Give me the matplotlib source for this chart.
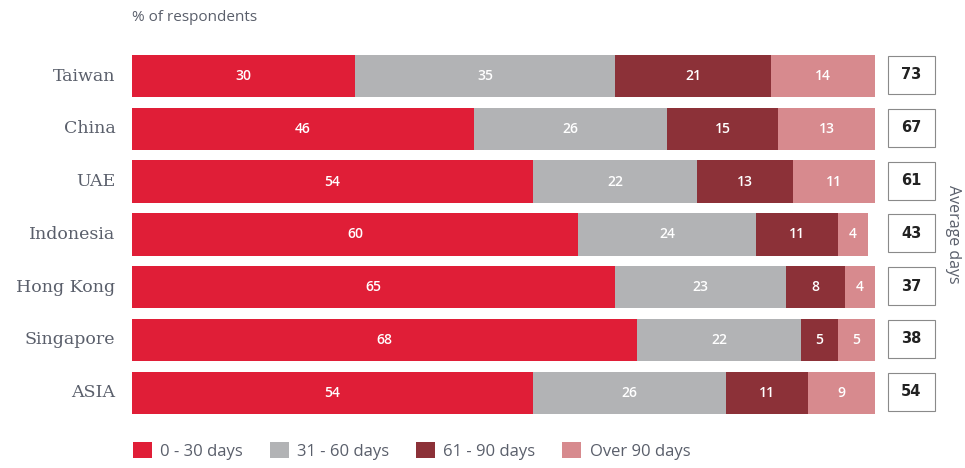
import matplotlib
matplotlib.use("Agg")
import matplotlib.pyplot as plt
from matplotlib.patches import Rectangle, Patch
import numpy as np

countries = ["Taiwan", "China", "UAE", "Indonesia", "Hong Kong", "Singapore", "ASIA"]
d0_30 = [30, 46, 54, 60, 65, 68, 54]
d31_60 = [35, 26, 22, 24, 23, 22, 26]
d61_90 = [21, 15, 13, 11, 8, 5, 11]
over90 = [14, 13, 11, 4, 4, 5, 9]
avg_days = [73, 67, 61, 43, 37, 38, 54]
series_names = ["0 - 30 days", "31 - 60 days", "61 - 90 days", "Over 90 days"]
colors = ["#e01e37", "#b2b3b5", "#8c3138", "#d78a8e"]

fig = plt.figure(figsize=(9.65, 4.68), dpi=100)
ax = fig.add_axes([0.1368, 0.1043, 0.9067 - 0.1368, 0.894 - 0.1043])

y = np.arange(len(countries))
left = np.zeros(len(countries))
series = [d0_30, d31_60, d61_90, over90]
for vals, col in zip(series, colors):
    vals = np.array(vals, dtype=float)
    ax.barh(y, vals, left=left, height=0.8, color=col, edgecolor="none")
    for yi, (l, v) in enumerate(zip(left, vals)):
        ax.text(l + v / 2, yi, f"{int(v)}", ha="center", va="center",
                color="white", fontsize=10, family="Open Sans", fontweight="semibold")
    left += vals

ax.set_xlim(0, 100)
ax.set_ylim(len(countries) - 0.5, -0.5)
ax.set_yticks(y)
ax.set_yticklabels(countries, family="DejaVu Serif", fontsize=12.5, color="#5a5f6b")
for lab in ax.get_yticklabels():
    lab.set_va("center")
ax.tick_params(axis="y", length=0, pad=12)
ax.set_xticks([])
for s in ax.spines.values():
    s.set_visible(False)

# Average days boxes
for yi, v in enumerate(avg_days):
    r = Rectangle((101.75, yi - 0.38), 6.3, 0.72, facecolor="white",
                  edgecolor="#8a8a8a", lw=0.8, clip_on=False)
    ax.add_patch(r)
    ax.text(101.75 + 3.15, yi - 0.02, str(v), ha="center", va="center",
            fontsize=10.5, fontweight="bold", color="#222222", clip_on=False)

ax.text(110.5, 3, "Average days", rotation=270, ha="center", va="center",
        fontsize=11.5, color="#5a5f6b", family="Open Sans", clip_on=False)

fig.text(0.137, 0.963, "% of respondents", fontsize=11, color="#5a5f6b",
         family="Open Sans", ha="left", va="center")

handles = [Patch(facecolor=c, edgecolor="none") for c in colors]
leg = fig.legend(handles, series_names, loc="lower left", bbox_to_anchor=(0.122, -0.014),
                 ncol=4, frameon=False, handlelength=1.15, handleheight=1.15,
                 handletextpad=0.5, columnspacing=1.6, fontsize=12)
for t in leg.get_texts():
    t.set_color("#5a5f6b")
    t.set_family("Open Sans")

fig.savefig("out.png", dpi=100, facecolor="white")
